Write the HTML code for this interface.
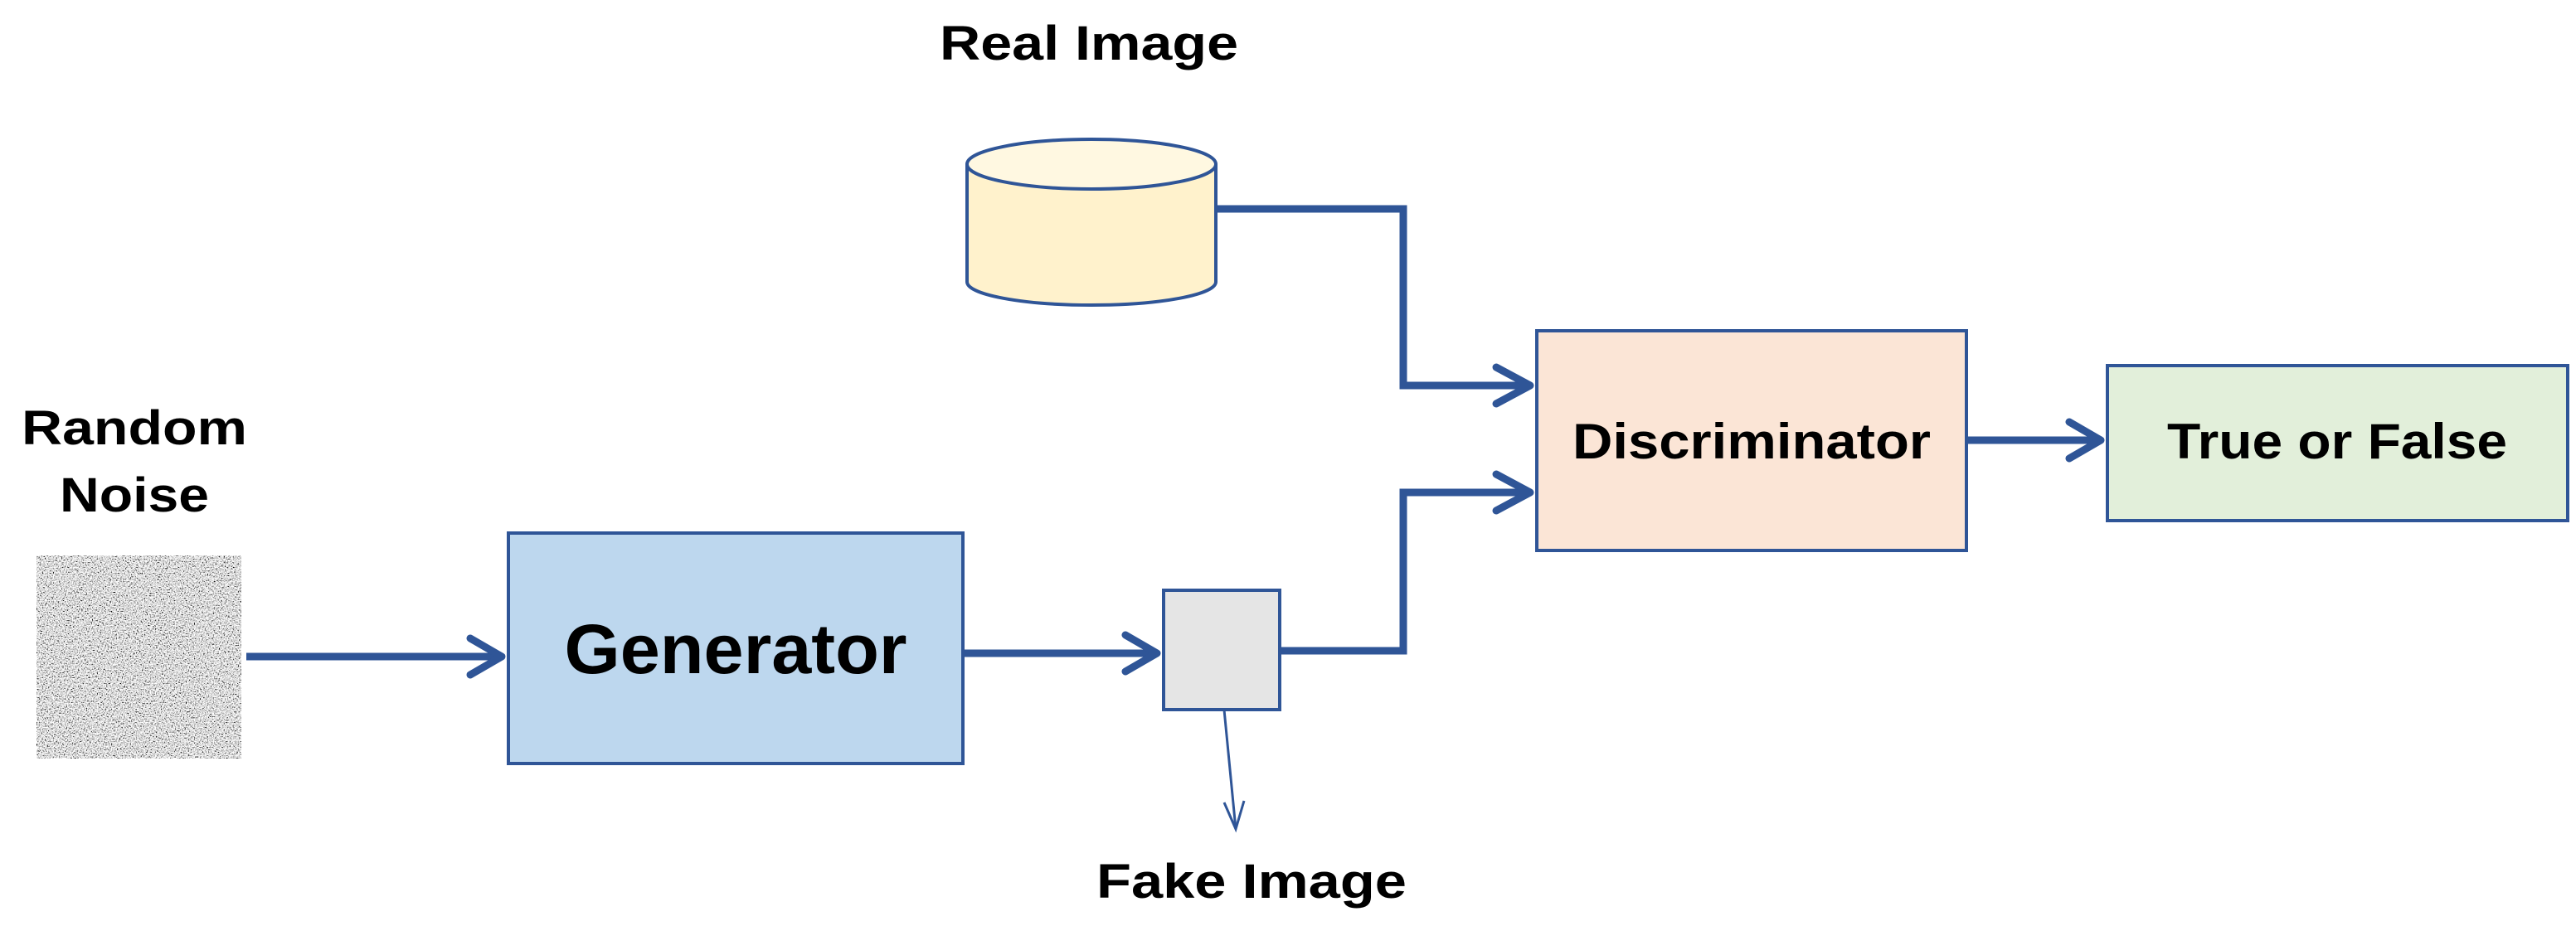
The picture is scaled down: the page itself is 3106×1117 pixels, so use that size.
<!DOCTYPE html>
<html><head><meta charset="utf-8"><style>
html,body{margin:0;padding:0;background:#fff;}
svg{display:block;}
text{font-family:"Liberation Sans",sans-serif;fill:#000;font-weight:bold;}
</style></head><body>
<svg width="3106" height="1117" viewBox="0 0 3106 1117" xmlns="http://www.w3.org/2000/svg">
<defs>
<filter id="noise" x="0" y="0" width="100%" height="100%">
<feTurbulence type="fractalNoise" baseFrequency="0.7" numOctaves="1" seed="4"/>
<feColorMatrix type="matrix" values="0.33 0.33 0.33 0 0  0.33 0.33 0.33 0 0  0.33 0.33 0.33 0 0  0 0 0 0 1"/>
<feComponentTransfer><feFuncR type="linear" slope="5" intercept="-1.75"/><feFuncG type="linear" slope="5" intercept="-1.75"/><feFuncB type="linear" slope="5" intercept="-1.75"/></feComponentTransfer>
</filter>
</defs>

<text x="1313" y="72" font-size="58" text-anchor="middle" textLength="360" lengthAdjust="spacingAndGlyphs">Real Image</text>
<text x="162" y="536" font-size="58" text-anchor="middle" textLength="272" lengthAdjust="spacingAndGlyphs">Random</text>
<text x="162" y="617" font-size="58" text-anchor="middle" textLength="180" lengthAdjust="spacingAndGlyphs">Noise</text>
<text x="1509" y="1083" font-size="58" text-anchor="middle" textLength="374" lengthAdjust="spacingAndGlyphs">Fake Image</text>

<rect x="44" y="670" width="247" height="245" fill="#999" filter="url(#noise)"/>

<path d="M1166 198 L1166 340 A150 28 0 0 0 1466 340 L1466 198" fill="#FFF2CC" stroke="#2F5597" stroke-width="4"/>
<ellipse cx="1316" cy="198" rx="150" ry="30" fill="#FFF8E1" stroke="#2F5597" stroke-width="4"/>

<rect x="613" y="643" width="548" height="278" fill="#BDD7EE" stroke="#2F5597" stroke-width="4"/>
<text x="887" y="812" font-size="84" text-anchor="middle" textLength="413" lengthAdjust="spacingAndGlyphs">Generator</text>

<rect x="1403" y="712" width="140" height="144" fill="#E5E5E5" stroke="#2F5597" stroke-width="4"/>

<rect x="1853" y="399" width="518" height="265" fill="#FBE5D6" stroke="#2F5597" stroke-width="4"/>
<text x="2112" y="553" font-size="60" text-anchor="middle" textLength="432" lengthAdjust="spacingAndGlyphs">Discriminator</text>

<rect x="2541" y="441" width="555" height="187" fill="#E2EFDA" stroke="#2F5597" stroke-width="4"/>
<text x="2818" y="553" font-size="60" text-anchor="middle" textLength="410" lengthAdjust="spacingAndGlyphs">True or False</text>

<g fill="none" stroke="#2F5597" stroke-width="9" stroke-linejoin="miter">
<path d="M1466 252 L1692 252 L1692 465 L1845 465"/>
<path d="M1543 785 L1692 785 L1692 594 L1845 594"/>
<path d="M297 792 L605 792"/>
<path d="M1161 788 L1395 788"/>
<path d="M2371 531 L2533 531"/>
</g>
<g fill="none" stroke="#2F5597" stroke-width="9" stroke-linecap="round" stroke-linejoin="round">
<path d="M1804 443 L1845 465 L1804 487"/>
<path d="M1804 572 L1845 594 L1804 616"/>
<path d="M567 770 L605 792 L567 814"/>
<path d="M1357 766 L1395 788 L1357 810"/>
<path d="M2495 509 L2533 531 L2495 553"/>
</g>
<g fill="none" stroke="#2F5597" stroke-width="3">
<path d="M1476 856 L1490 1000"/>
<path d="M1476 968 L1490 1000 L1500 966"/>
</g>
</svg>
</body></html>
